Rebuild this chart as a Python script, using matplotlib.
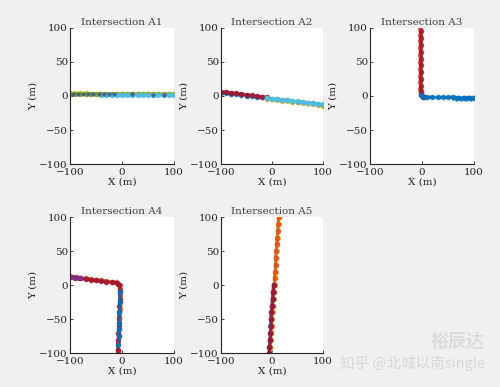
import matplotlib.pyplot as plt

# ---- data (metres) ----
a1_x = [-100, -90, -80, -70, -60, -50, -40, -30, -20, -10, 0, 10, 20, 30, 40, 50, 60, 70, 80, 90, 100]
a1_y_yellow = [4, 4, 4, 4, 3.5, 3.5, 3.5, 3.5, 3.5, 3, 3, 3, 3, 3, 3, 3, 3, 3, 3, 3, 3]
a1_y_green = [3, 3, 3, 3, 3, 3, 3, 3, 3, 3, 3, 3, 3, 3, 3, 3, 2.5, 2.5, 2.5, 2.5, 2.5]
a1_y_cyan = [2, 2, 2, 2, 2, 2, 2, 2, 2, 2, 2, 2, 2, 2, 2, 2, 2, 2, 2, 2, 2]
a1_x_dark = [-95, -85, -75, -65, -55, -45, -35, -25, -15, 20, 60, 80]
a1_y_dark = [3, 3, 3, 3, 3, 3, 3, 3, 3, 3, 2, 2]

a2_x_left = [-100, -90, -80, -70, -60, -50, -40, -30, -20, -10]
a2_y_red = [6, 6, 5, 4, 3, 2, 1, 0, -1, -2]
a2_y_blue = [5, 4, 3, 2.5, 1.5, 0.5, -0.5, -1.5, -2, -3]
a2_x_right = [-10, 0, 10, 20, 30, 40, 50, 60, 70, 80, 90, 100]
a2_y_green = [-3, -4, -5, -6, -6.5, -7.5, -8.5, -9.5, -10, -11, -12, -13]
a2_y_cyan = [-3, -4, -4.5, -5.5, -6.5, -7.5, -8, -9, -10, -11, -12, -12.5]
a2_y_yellow = [-4, -5, -6, -7, -7.5, -8.5, -9.5, -10.5, -11, -12, -13, -14]

a3_x_orange = [-3, -3, -3, -3, -3, -3, -3, -3, -3, -3, -2, 1, 5]
a3_y_orange = [100, 90, 80, 70, 60, 50, 40, 30, 20, 10, 4, 0, -1]
a3_x_red = [-2, -2, -2, -2, -2, -2, -2, -2, -2, -2, -1, 2]
a3_y_red = [95, 85, 75, 65, 55, 45, 35, 25, 15, 8, 2, -1]
a3_x_blue = [-1, 2, 10, 20, 30, 40, 50, 60, 70, 80, 90, 100]
a3_y_blue = [2, -1, -2, -2, -2, -2, -2, -2, -3, -3, -3, -3]
a3_x_wave = [60, 65, 70, 75, 80, 85, 90, 95, 100]
a3_y_wave = [-3, -5, -3, -5, -3, -5, -3, -5, -3]

a4_x_orange = [-100, -90, -80, -70, -60, -50, -40, -30, -20, -12, -7, -4, -3, -3, -4, -4, -5, -5, -6, -6, -7, -8, -8]
a4_y_orange = [13, 12, 11, 10, 9, 8, 7, 6, 5, 4, 2.5, 0, -5, -15, -25, -35, -45, -55, -65, -75, -85, -95, -100]
a4_x_red = [-100, -90, -80, -70, -60, -50, -40, -30, -20, -10, -5, -4, -4, -5, -5, -6, -6, -7, -7, -8]
a4_y_red = [12, 11, 10, 9, 8, 7, 6, 5, 4, 3, 0, -8, -20, -30, -40, -50, -60, -70, -80, -95]
a4_x_blue = [-4, -4, -5, -5, -6, -6, -7]
a4_y_blue = [-10, -25, -40, -55, -65, -75, -88]
a4_x_dark = [-98, -94, -90, -86, -82, -78]
a4_y_dark = [12, 12, 11, 12, 11, 11]

a5_y = [-100, -90, -80, -70, -60, -50, -40, -30, -20, -10, 0, 10, 20, 30, 40, 50, 60, 70, 80, 90, 100]
a5_x_orange = [-5, -4, -3, -2, -1, -1, 0, 1, 2, 3, 4, 5, 6, 7, 7, 8, 9, 10, 11, 12, 13]
a5_x_yellow = [-4, -3, -2, -1, 0, 0, 1, 2, 3, 4, 5, 6, 7, 8, 8, 9, 10, 11, 12, 13, 14]
a5_y_low = [-100, -90, -80, -70, -60, -50, -40, -30, -20, -10, 0]
a5_x_red = [-5, -5, -4, -3, -2, -2, -1, 0, 1, 2, 3]
a5_x_blue = [-6, -5, -4, -3, -3, -2, -1, 0, 1, 2, 3]

titles = ["Intersection A1", "Intersection A2", "Intersection A3", "Intersection A4", "Intersection A5"]

BLUE, ORANGE, YELLOW, PURPLE = "#0072BD", "#D95319", "#EDB120", "#7E2F8E"
GREEN, CYAN, RED = "#77AC30", "#4DBEEE", "#A2142F"

plt.rcParams['font.family'] = ['DejaVu Serif']
fig = plt.figure(figsize=(5.0, 3.87), dpi=100, facecolor="#f0f0f0")

positions = [
    [0.140, 0.576, 0.208, 0.352],
    [0.442, 0.576, 0.204, 0.352],
    [0.740, 0.576, 0.208, 0.352],
    [0.140, 0.087, 0.208, 0.352],
    [0.442, 0.087, 0.204, 0.352],
]
axes = [fig.add_axes(p) for p in positions]


def track(ax, x, y, c, m="o"):
    ax.plot(x, y, color=c, lw=2.2, marker=m, ms=3, alpha=0.75)


ax = axes[0]
track(ax, a1_x, a1_y_yellow, YELLOW)
track(ax, a1_x, a1_y_green, GREEN)
track(ax, a1_x[6:], a1_y_cyan[6:], CYAN)
ax.plot(a1_x_dark, a1_y_dark, ls="none", marker="*", ms=3, color="#3a5a7a", alpha=0.7)

ax = axes[1]
track(ax, a2_x_left, a2_y_blue, BLUE)
track(ax, a2_x_left, a2_y_red, RED)
track(ax, a2_x_right, a2_y_yellow, YELLOW)
track(ax, a2_x_right, a2_y_green, GREEN)
track(ax, a2_x_right, a2_y_cyan, CYAN)

ax = axes[2]
track(ax, a3_x_orange, a3_y_orange, ORANGE)
track(ax, a3_x_red, a3_y_red, RED)
track(ax, a3_x_blue, a3_y_blue, BLUE)
ax.plot(a3_x_wave, a3_y_wave, color=BLUE, lw=1.4, marker="v", ms=3, alpha=0.75)

ax = axes[3]
track(ax, a4_x_orange, a4_y_orange, ORANGE)
track(ax, a4_x_red, a4_y_red, RED)
track(ax, a4_x_blue, a4_y_blue, BLUE)
ax.plot(a4_x_dark, a4_y_dark, ls="none", marker="*", ms=3.5, color=PURPLE, alpha=0.8)

ax = axes[4]
track(ax, a5_x_yellow, a5_y, YELLOW)
track(ax, a5_x_orange, a5_y, ORANGE)
track(ax, a5_x_blue, a5_y_low, BLUE)
track(ax, a5_x_red, a5_y_low, RED)

for ax, t in zip(axes, titles):
    ax.set_xlim(-100, 100)
    ax.set_ylim(-100, 100)
    ax.set_xticks([-100, 0, 100])
    ax.set_yticks([-100, -50, 0, 50, 100])
    ax.set_facecolor("white")
    for s in ["top", "right"]:
        ax.spines[s].set_visible(False)
    for s in ["left", "bottom"]:
        ax.spines[s].set_color("#262626")
        ax.spines[s].set_linewidth(0.8)
    ax.tick_params(direction="in", length=2.5, width=0.6, labelsize=7.5,
                   colors="#262626", pad=1.5)
    ax.tick_params(axis="x", pad=3)
    ax.set_title(t, fontsize=7.5, color="#404040", pad=2)
    ax.set_xlabel("X (m)", fontsize=7.5, color="#262626", labelpad=0)
    ax.set_ylabel("Y (m)", fontsize=7.5, color="#262626", labelpad=1)

fig.text(0.97, 0.105, "裕辰达", fontsize=13, color="#dcdcdc", ha="right",
         family=["Noto Sans CJK SC"], fontweight="bold")
fig.text(0.97, 0.05, "知乎 @北城以南single", fontsize=10.5, color="#d8d8d8", ha="right",
         family=["Noto Sans CJK SC", "DejaVu Sans"])

fig.savefig("out.png", dpi=100, facecolor=fig.get_facecolor())
